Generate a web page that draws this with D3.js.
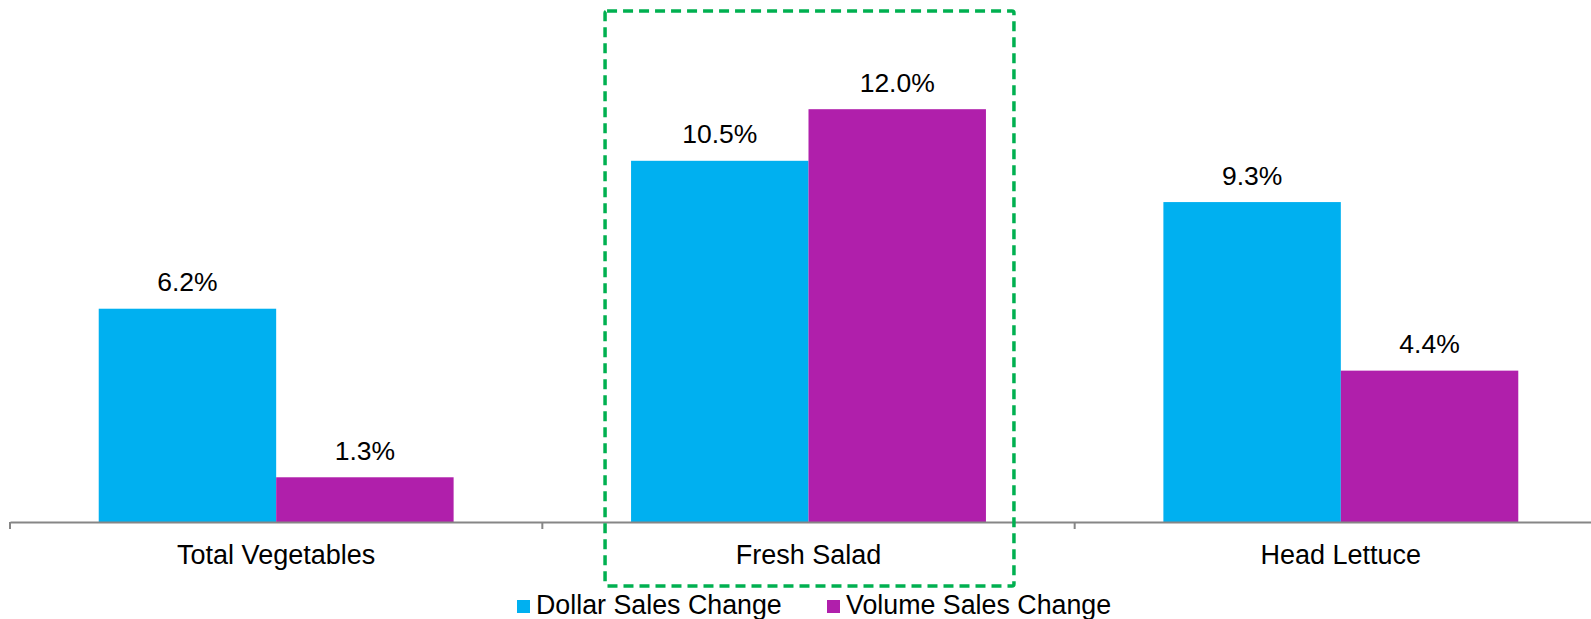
<!DOCTYPE html>
<html>
<head>
<meta charset="utf-8">
<script src="https://cdn.jsdelivr.net/npm/d3@7"></script>
<style>
  html, body { margin: 0; padding: 0; background: #ffffff; }
  svg { display: block; }
  text { font-family: "Liberation Sans", Arial, sans-serif; fill: #000; }
</style>
</head>
<body>
<svg id="chart" width="1591" height="619"></svg>
<script>
// Categories and series
const categories = ["Total Vegetables", "Fresh Salad", "Head Lettuce"];
const seriesNames = ["Dollar Sales Change", "Volume Sales Change"];
const dollarChange = [6.2, 10.5, 9.3];
const volumeChange = [1.3, 12.0, 4.4];
const seriesColors = ["#00b0f0", "#b01fab"];
const highlighted = "Fresh Salad";

const svg = d3.select("#chart");

const rows = categories.map((c, i) => ({
  category: c,
  values: [
    { series: seriesNames[0], value: dollarChange[i] },
    { series: seriesNames[1], value: volumeChange[i] }
  ]
}));

// Scales
const x0 = d3.scaleBand().domain(categories).range([10, 1607]).paddingInner(0).paddingOuter(0);
const x1 = d3.scaleBand().domain(seriesNames).range([0, x0.bandwidth()]).paddingInner(0).paddingOuter(0.5);
const y = d3.scaleLinear().domain([0, 14]).range([522, 522 - 14 * 34.4]);
const color = d3.scaleOrdinal().domain(seriesNames).range(seriesColors);

// Bars
const groups = svg.append("g").selectAll("g")
  .data(rows).join("g")
  .attr("transform", d => `translate(${x0(d.category)},0)`);

groups.selectAll("rect")
  .data(d => d.values).join("rect")
  .attr("x", d => x1(d.series))
  .attr("y", d => y(d.value))
  .attr("width", x1.bandwidth())
  .attr("height", d => y(0) - y(d.value))
  .attr("fill", d => color(d.series));

// Value labels
groups.selectAll("text.value")
  .data(d => d.values).join("text")
  .attr("class", "value")
  .attr("x", d => x1(d.series) + x1.bandwidth() / 2)
  .attr("y", d => y(d.value) - 17.5)
  .attr("text-anchor", "middle")
  .style("font-size", "26.5px")
  .text(d => d.value.toFixed(1) + "%");

// Category axis
const axis = svg.append("g")
  .attr("transform", `translate(0,${y(0)})`)
  .call(d3.axisBottom(x0).tickSize(0).tickSizeOuter(0).tickPadding(23));
axis.select(".domain").attr("stroke", "#868686").attr("stroke-width", 2);
axis.selectAll(".tick text")
  .style("font-size", "27px")
  .attr("font-family", null)
  .attr("fill", "#000");

// Tick marks between categories
const boundaries = categories.map(c => x0(c)).concat([x0.range()[1]]);
axis.selectAll("line.divider")
  .data(boundaries).join("line")
  .attr("class", "divider")
  .attr("x1", d => d).attr("x2", d => d)
  .attr("y1", 0).attr("y2", 7)
  .attr("stroke", "#868686").attr("stroke-width", 2);

// Highlight frame around the featured category
const inset = x1(seriesNames[0]) - 26;
svg.append("rect")
  .attr("x", x0(highlighted) + inset)
  .attr("y", 11)
  .attr("width", x0.bandwidth() - 2 * inset + 2)
  .attr("height", 575)
  .attr("rx", 2)
  .attr("fill", "none")
  .attr("stroke", "#00b050")
  .attr("stroke-width", 3.5)
  .attr("stroke-dasharray", "10 6");

// Legend
const legendItems = [
  { name: seriesNames[0], x: 517 },
  { name: seriesNames[1], x: 827 }
];
const legend = svg.append("g").selectAll("g")
  .data(legendItems).join("g")
  .attr("transform", d => `translate(${d.x},0)`);
legend.append("rect")
  .attr("x", 0).attr("y", 600)
  .attr("width", 13).attr("height", 13)
  .attr("fill", d => color(d.name));
legend.append("text")
  .attr("x", 19).attr("y", 614)
  .style("font-size", "26.8px")
  .text(d => d.name);
</script>
</body>
</html>
